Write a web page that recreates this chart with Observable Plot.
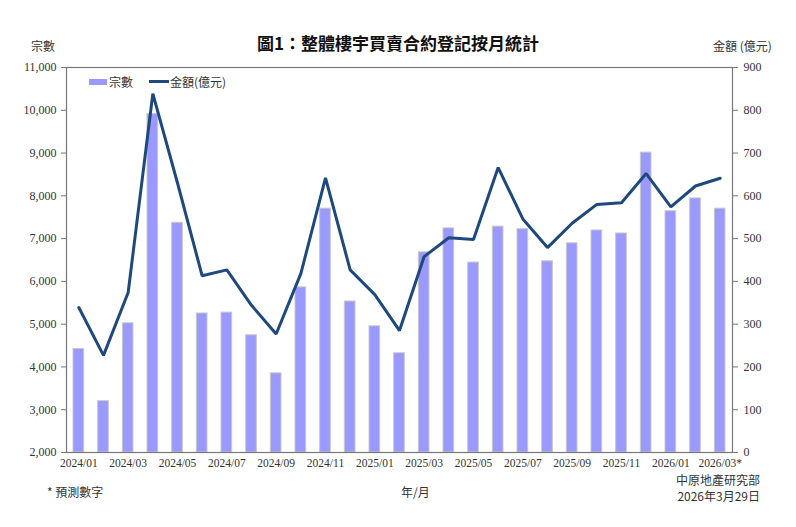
<!DOCTYPE html>
<html><head><meta charset="utf-8">
<script src="https://cdn.jsdelivr.net/npm/d3@7"></script>
<script src="https://cdn.jsdelivr.net/npm/@observablehq/plot@0.6"></script>
<style>
body{margin:0;background:#fff;}
#wrap{position:relative;width:796px;height:527px;background:#fff;font-family:"Liberation Serif","Noto Sans CJK TC",serif;color:#333;}
.t{position:absolute;white-space:nowrap;}
#title{left:0;width:796px;top:30px;text-align:center;font-family:"Noto Sans CJK TC",sans-serif;font-weight:bold;font-size:17px;color:#111;}
#chart{position:absolute;left:0;top:50px;}
</style></head>
<body><div id="wrap">
<div id="title" class="t">圖1：整體樓宇買賣合約登記按月統計</div>
<div id="chart"></div>
<div class="t" style="left:31px;top:37px;font-size:12px;font-family:'Noto Sans CJK TC';">宗數</div>
<div class="t" style="left:713px;top:37px;font-size:12px;font-family:'Noto Sans CJK TC';">金額 (億元)</div>
<div class="t" style="left:89px;top:73px;font-size:12px;font-family:'Noto Sans CJK TC';display:flex;align-items:center;">
  <span style="display:inline-block;width:18px;height:6px;background:#9999ff;margin-right:2px;"></span>宗數
  <span style="display:inline-block;width:20px;height:3px;background:#1f497d;margin-left:16px;margin-right:1px;"></span>金額(億元)
</div>
<div class="t" style="left:47px;top:483px;font-size:12px;font-family:'Noto Sans CJK TC';">* 預測數字</div>
<div class="t" style="left:401px;top:483px;font-size:12px;font-family:'Noto Sans CJK TC';">年/月</div>
<div class="t" style="right:36px;top:472px;font-size:12px;text-align:right;line-height:16px;font-family:'Noto Sans CJK TC';">中原地產研究部<br>2026年3月29日</div>
</div>
<script>
const months = ["2024/01","2024/02","2024/03","2024/04","2024/05","2024/06","2024/07","2024/08","2024/09","2024/10","2024/11","2024/12",
"2025/01","2025/02","2025/03","2025/04","2025/05","2025/06","2025/07","2025/08","2025/09","2025/10","2025/11","2025/12",
"2026/01","2026/02","2026/03"];
const counts = [4420,3200,5020,9910,7370,5250,5270,4740,3850,5860,7700,5530,4950,4320,6680,7240,6440,7280,7220,6470,6890,7190,7120,9010,7640,7940,7700];
const amounts = [339,227,374,839,630,413,427,344,277,418,642,427,369,285,458,502,498,666,546,479,536,580,584,652,574,623,641];
const tickMonths = ["2024/01","2024/03","2024/05","2024/07","2024/09","2024/11","2025/01","2025/03","2025/05","2025/07","2025/09","2025/11","2026/01","2026/03"];
const leftTicks = [2000,3000,4000,5000,6000,7000,8000,9000,10000,11000];

const data = months.map((m,i)=>({m, c:counts[i], a:amounts[i], ay:2000+amounts[i]*10}));
const fmt = d3.format(",");
const serif = "Liberation Serif";
const plot = Plot.plot({
  width:796, height:477,
  marginLeft:66, marginRight:64, marginTop:17, marginBottom:75,
  style:{fontFamily:"'Liberation Serif', serif", fontSize:"12px", color:"#333", background:"transparent"},
  x:{type:"band", domain:months, padding:0, round:false, label:null},
  y:{domain:[2000,11000], label:null},
  marks:[
    Plot.barY(data,{x:"m", y1:2000, y2:"c", fill:"#9999ff", stroke:"#c8c8c8", strokeWidth:1, insetLeft:7, insetRight:7}),
    Plot.lineY(data,{x:"m", y:"ay", stroke:"#1f497d", strokeWidth:3, strokeLinejoin:"miter"}),
    Plot.frame({stroke:"#777", strokeWidth:1.2}),
    Plot.axisY({anchor:"left", ticks:leftTicks, tickFormat:fmt, tickSize:5, tickPadding:5, label:null, stroke:"#777", fontFamily:serif, fontSize:12}),
    Plot.axisY({anchor:"right", ticks:leftTicks, tickFormat:d=>String((d-2000)/10), tickSize:5, tickPadding:6, label:null, stroke:"#777", fontFamily:serif, fontSize:12}),
    Plot.axisX({ticks:tickMonths, tickFormat:d=>d==="2026/03"?d+"*":d, tickSize:0, tickPadding:6, label:null, fontFamily:serif, fontSize:11.5})
  ]
});
document.getElementById("chart").appendChild(plot);
</script>
</body></html>
